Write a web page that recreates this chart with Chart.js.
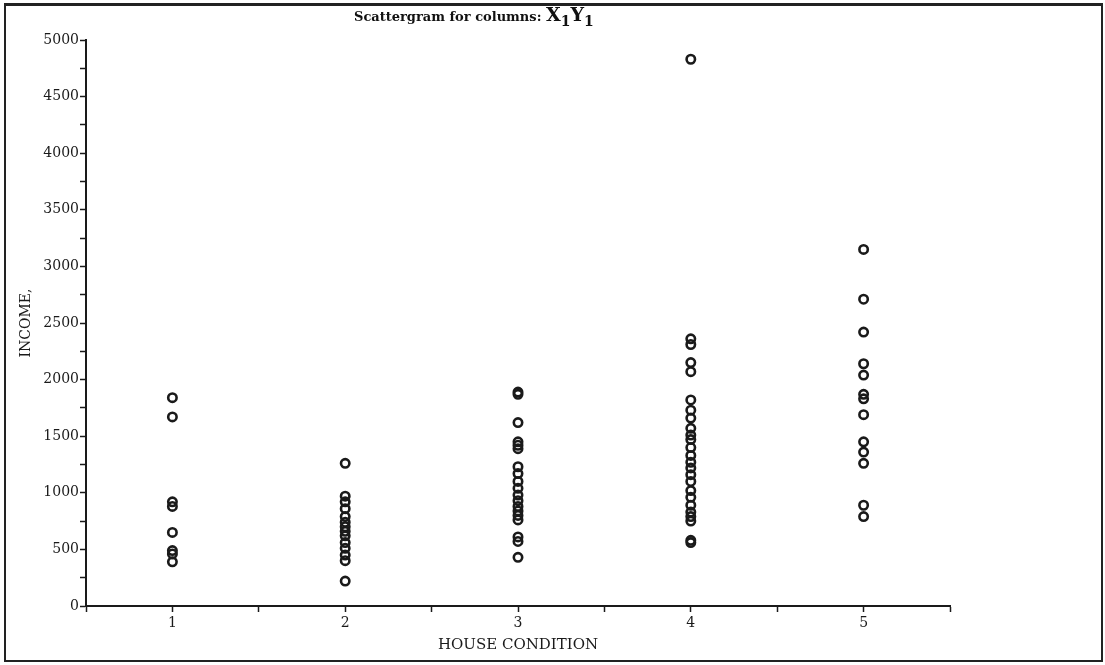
<!DOCTYPE html>
<html>
<head>
<meta charset="utf-8">
<script src="https://cdn.jsdelivr.net/npm/chart.js@4/dist/chart.umd.min.js"></script>
<style>
  html, body { margin: 0; padding: 0; background: #fff; }
  #wrap { position: relative; width: 1105px; height: 665px; }
  #frame { position: absolute; left: 4px; top: 3px; width: 1099px; height: 659px; box-sizing: border-box; border: 2px solid #222; border-top-width: 3px; pointer-events: none; }
  #title { position: absolute; left: 354px; top: 3px; font: bold 13px "DejaVu Serif", serif; color: #111; white-space: nowrap; }
  #title .v { font-size: 19px; }
  #title sub { font-size: 14px; }
  canvas { position: absolute; left: 0; top: 0; }
</style>
</head>
<body>
<div id="wrap">
  <canvas id="scatter" width="1105" height="665"></canvas>
  <div id="title">Scattergram for columns: <span class="v">X<sub>1</sub>Y<sub>1</sub></span></div>
  <div id="frame"></div>
</div>
<script>
// house condition categories (x) and income readings (y) per category
const houseCondition = [1, 2, 3, 4, 5];
const incomeCond1 = [1840, 1670, 920, 880, 650, 490, 460, 390];
const incomeCond2 = [1260, 970, 920, 860, 790, 740, 700, 660, 620, 560, 510, 450, 400, 220];
const incomeCond3 = [1890, 1870, 1620, 1450, 1420, 1390, 1230, 1170, 1100, 1040, 980, 930, 880, 840, 800, 760, 610, 570, 430];
const incomeCond4 = [4830, 2360, 2310, 2150, 2070, 1820, 1730, 1660, 1570, 1510, 1470, 1400, 1330, 1270, 1220, 1160, 1100, 1020, 960, 890, 830, 790, 750, 580, 560];
const incomeCond5 = [3150, 2710, 2420, 2140, 2040, 1870, 1830, 1690, 1450, 1360, 1260, 890, 790];

const groups = [incomeCond1, incomeCond2, incomeCond3, incomeCond4, incomeCond5];
const points = [];
groups.forEach((vals, i) => {
  vals.forEach(v => points.push({ x: houseCondition[i], y: v }));
});

const ink = '#1a1a1a';
const serif = '"DejaVu Serif", "Liberation Serif", serif';

new Chart(document.getElementById('scatter').getContext('2d'), {
  type: 'scatter',
  data: {
    datasets: [{
      data: points,
      pointStyle: 'circle',
      pointRadius: 4.2,
      pointBorderWidth: 2.6,
      pointBorderColor: ink,
      pointBackgroundColor: 'rgba(0,0,0,0)',
    }],
  },
  options: {
    responsive: false,
    animation: false,
    layout: { padding: { top: 40, right: 155, left: 0, bottom: 0 } },
    plugins: {
      legend: { display: false },
      tooltip: { enabled: false },
    },
    scales: {
      x: {
        type: 'linear',
        min: 0.5,
        max: 5.5,
        afterFit: (s) => { s.height = 59; },
        border: { display: true, color: ink, width: 2 },
        grid: { drawOnChartArea: false, tickLength: 6, tickColor: ink, tickWidth: 1.5 },
        ticks: {
          stepSize: 0.5,
          padding: 3,
          color: ink,
          font: { family: serif, size: 14 },
          callback: (v) => (Number.isInteger(v) ? String(v) : ''),
        },
        title: {
          display: true,
          text: 'HOUSE CONDITION',
          color: ink,
          font: { family: serif, size: 15 },
          padding: { top: 0, bottom: 11 },
        },
      },
      y: {
        min: 0,
        max: 5000,
        afterFit: (s) => { s.width = 86; },
        border: { display: true, color: ink, width: 2 },
        grid: { drawOnChartArea: false, tickLength: 6, tickColor: ink, tickWidth: 1.5 },
        ticks: {
          stepSize: 250,
          padding: 1,
          color: ink,
          font: { family: serif, size: 14 },
          callback: (v) => (v % 500 === 0 ? String(v) : ''),
        },
        title: {
          display: true,
          text: 'INCOME,',
          color: ink,
          font: { family: serif, size: 14 },
          padding: { top: 18, bottom: 0 },
        },
      },
    },
  },
});
</script>
</body>
</html>
